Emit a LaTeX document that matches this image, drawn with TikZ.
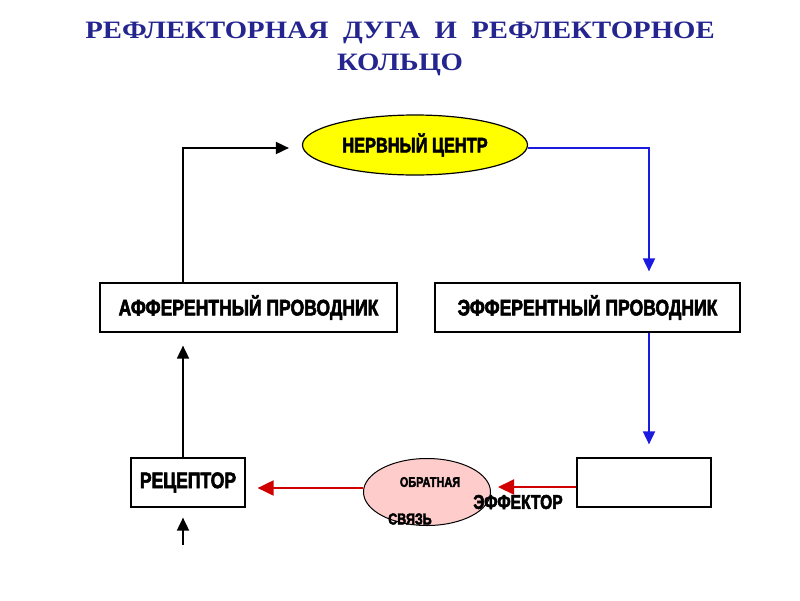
\documentclass[tikz,border=0pt]{standalone}
\usepackage{fontspec}
\usepackage{xcolor}
\usepackage{tikz}
\usetikzlibrary{shapes.geometric, arrows.meta, positioning}
\setmainfont{Liberation Sans}
\newfontfamily\titlefont{Liberation Serif}[FakeStretch=1.15]
\newfontfamily\boxfont{Liberation Sans}[FakeStretch=0.78, BoldFeatures={FakeBold=2.5}]
\definecolor{titleblue}{HTML}{25258F}
\definecolor{arcblue}{HTML}{1A1AE0}
\definecolor{ringred}{HTML}{D00000}
\definecolor{centreyellow}{HTML}{FFFF00}
\definecolor{ringpink}{HTML}{FFCCCC}
\tikzset{
  stage/.style={
    rectangle, draw=black, fill=white, line width=1.2pt,
    inner sep=2pt, align=center, font=\boxfont\bfseries\fontsize{22.5}{24}\selectfont
  },
  centre/.style={
    ellipse, draw=black, fill=centreyellow, line width=1.2pt,
    minimum width=225pt, minimum height=60pt, inner sep=0pt,
    font=\boxfont\bfseries\fontsize{21}{23}\selectfont
  },
  ring/.style={
    ellipse, draw=black, fill=ringpink, line width=1pt,
    minimum width=127pt, minimum height=67pt, inner sep=0pt
  },
  lbl/.style={inner sep=0pt, font=\boxfont\bfseries},
  blackarrow/.style={-{Triangle[length=13pt,width=12pt]}, line width=1.8pt, draw=black},
  bluearrow/.style={-{Triangle[length=13pt,width=12pt,fill=arcblue]}, line width=1.8pt, draw=arcblue},
  redarrow/.style={-{Triangle[length=16pt,width=15pt,fill=ringred]}, line width=2pt, draw=ringred},
}
\begin{document}
\begin{tikzpicture}[x=1pt, y=-1pt]
    \useasboundingbox (0,0) rectangle (800,600);

    %% Title
    \node[align=center, text=titleblue, font=\titlefont\bfseries\fontsize{25}{32}\selectfont] (title) at (400,49)
      {РЕФЛЕКТОРНАЯ\ \ ДУГА\ \ И\ \ РЕФЛЕКТОРНОЕ\\КОЛЬЦО};

    %% Arc nodes
    \node[centre] (nc) at (415,145) {НЕРВНЫЙ ЦЕНТР};
    \node[stage, minimum width=297pt, minimum height=49pt] (aff) at (248.5,307.5) {АФФЕРЕНТНЫЙ ПРОВОДНИК};
    \node[stage, minimum width=305pt, minimum height=49pt] (eff) at (587.5,307.5) {ЭФФЕРЕНТНЫЙ ПРОВОДНИК};
    \node[stage, minimum width=114pt, minimum height=49pt] (rec) at (188,482.5) {РЕЦЕПТОР};
    \node[stage, minimum width=134pt, minimum height=49pt] (effr) at (644,482.5) {};

    %% Feedback ring
    \node[ring] (fb) at (427,492) {};
    \node[lbl, font=\boxfont\bfseries\fontsize{14}{16}\selectfont] (fbtop) at (430,482) {ОБРАТНАЯ};
    \node[lbl, font=\boxfont\bfseries\fontsize{16}{18}\selectfont] (fbbot) at (410,519) {СВЯЗЬ};
    \node[lbl, font=\boxfont\bfseries\fontsize{20}{22}\selectfont] (effl) at (518,502) {ЭФФЕКТОР};
    \coordinate (stim) at (183,545);

    %% Arrows
    \draw[blackarrow] ([xshift=-65.5pt]aff.north) |- ([xshift=-13pt, yshift=-3pt]nc.west);
    \draw[bluearrow] ([yshift=-3pt]nc.east) -| ([xshift=61.5pt, yshift=11pt]eff.north);
    \draw[bluearrow] ([xshift=61.5pt]eff.south) -- ([xshift=5pt, yshift=13pt]effr.north);
    \draw[redarrow] ([yshift=-4.5pt]effr.west) -- ([yshift=-4.5pt, xshift=7pt]effr.west -| fb.east);
    \draw[redarrow] ([yshift=4pt]fb.west) -- ([yshift=-5.5pt, xshift=12pt]rec.east);
    \draw[blackarrow] ([xshift=-5pt]rec.north) -- ([xshift=-65.5pt, yshift=-13pt]aff.south);
    \draw[blackarrow] (stim) -- ([xshift=-5pt, yshift=-10pt]rec.south);

  \end{tikzpicture}
\end{document}
